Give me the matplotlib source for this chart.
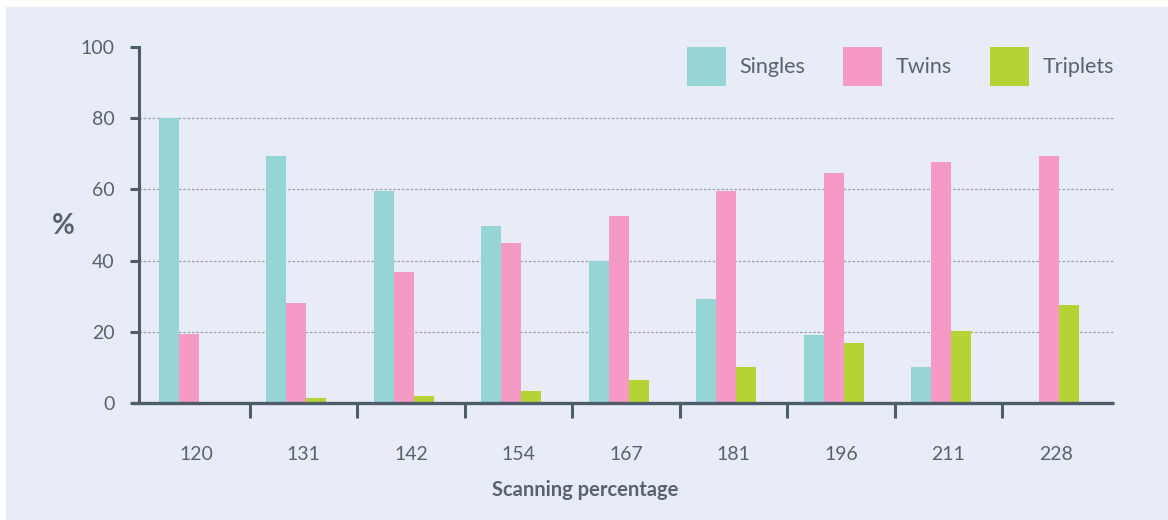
import numpy as np
import matplotlib.pyplot as plt
from matplotlib.patches import Rectangle

plt.rcParams['font.family'] = ['Lato', 'DejaVu Sans']

categories = ['120', '131', '142', '154', '167', '181', '196', '211', '228']
singles = [80, 69.5, 59.5, 49.8, 40, 29.3, 19, 10, 0]
twins = [19.3, 28, 36.8, 45, 52.6, 59.5, 64.6, 67.8, 69.5]
triplets = [0, 1.5, 2, 3.3, 6.4, 10, 16.8, 20.3, 27.5]

c_single = '#95d5d6'
c_twin = '#f49ac4'
c_trip = '#b5d334'
axis_col = '#4e5d6c'
text_col = '#58636f'
bg = '#e8ecf6'

fig = plt.figure(figsize=(11.68, 5.2), dpi=100)
fig.patch.set_facecolor('white')
# lavender card, white margin at top and left
fig.patches.append(Rectangle((6 / 1168, 0), 1 - 6 / 1168, 1 - 7 / 520,
                             transform=fig.transFigure, color=bg, zorder=-10))

ax = fig.add_axes([139 / 1168, 1 - 403 / 520, (1114 - 139) / 1168, (403 - 47) / 520])
ax.set_facecolor('none')

x = np.arange(len(categories))
w = 0.186
shift = -0.065
ax.bar(x + shift - w, singles, w, color=c_single, label='Singles', zorder=3)
ax.bar(x + shift, twins, w, color=c_twin, label='Twins', zorder=3)
ax.bar(x + shift + w, triplets, w, color=c_trip, label='Triplets', zorder=3)

ax.set_xlim(-0.53, 8.54)
ax.set_ylim(0, 100)

for s in ['top', 'right', 'bottom']:
    ax.spines[s].set_visible(False)
ax.spines['left'].set_color(axis_col)
ax.spines['left'].set_linewidth(2.2)
ax.spines['left'].set_zorder(5)

# x axis line, poking a little past the y axis
ax.plot([-0.008, 1], [0, 0], transform=ax.transAxes, color=axis_col,
        lw=2.4, clip_on=False, zorder=6, solid_capstyle='butt')

ax.set_yticks([0, 20, 40, 60, 80, 100])
ax.tick_params(axis='y', colors=axis_col, length=6.5, width=2.2, labelsize=14,
               labelcolor=text_col, pad=11)
for g in [20, 40, 60, 80]:
    ax.axhline(g, color='#9a9fa8', lw=0.9, ls=(0, (2, 1.5)), zorder=1)

ax.set_xticks(x)
ax.set_xticklabels(categories)
ax.tick_params(axis='x', which='major', length=0, labelsize=14,
               labelcolor=text_col, pad=31)
ax.set_xticks(x[:-1] + 0.5, minor=True)
ax.tick_params(axis='x', which='minor', length=11, width=2.2, color=axis_col,
               direction='out')

fig.text(585 / 1168, 1 - 490 / 520, 'Scanning percentage', fontsize=14.5,
         fontweight='bold', color=text_col, ha='center', va='center')
fig.text(63 / 1168, 1 - 226 / 520, '%', fontsize=20, fontweight='bold',
         color=text_col, ha='center', va='center')

ax.legend(loc='upper right', bbox_to_anchor=(1.0, 1.0), ncol=3, frameon=False,
          fontsize=15.5, handlelength=1.8, handleheight=2.4, handletextpad=0.65,
          columnspacing=1.75, borderpad=0, borderaxespad=0, labelcolor=text_col)

fig.savefig('out.png', dpi=100, facecolor=fig.get_facecolor())
